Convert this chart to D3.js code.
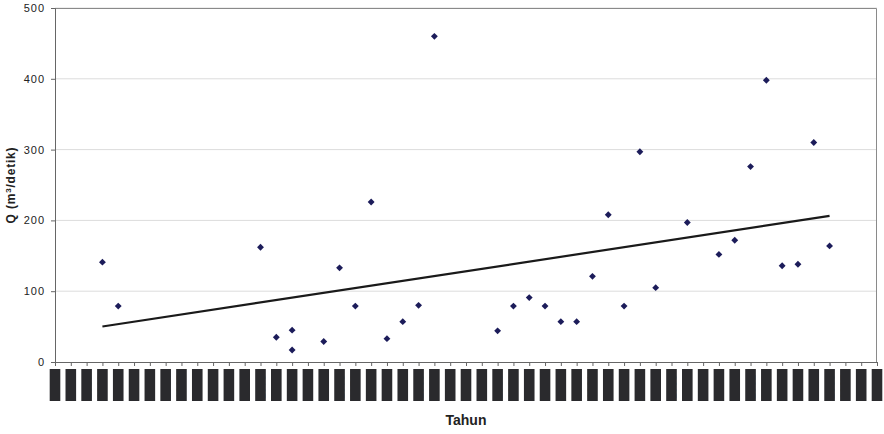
<!DOCTYPE html>
<html>
<head>
<meta charset="utf-8">
<script src="https://cdn.jsdelivr.net/npm/d3@7"></script>
<style>
  body { margin: 0; background: #fff; }
  text { font-family: "Liberation Sans", Arial, sans-serif; }
</style>
</head>
<body>
<svg id="chart" width="884" height="434"></svg>
<script>
// year slots on the x axis (labels are blacked out in the source)
const startYear = 1957;
const yearCount = 53;
const years = d3.range(startYear, startYear + yearCount);

// observed discharge, by year offset
const obsIndex = [3, 4, 13, 14, 15, 15, 17, 18, 19, 20, 21, 22, 23, 24, 28, 29, 30, 31, 32, 33, 34, 35, 36, 37, 38, 40, 42, 43, 44, 45, 46, 47, 48, 49];
const obsQ     = [141, 79, 162, 35, 45, 17, 29, 133, 79, 226, 33, 57, 80, 460, 44, 79, 91, 79, 57, 57, 121, 208, 79, 297, 105, 197, 152, 172, 276, 398, 136, 138, 310, 164];
const yTicks = [0, 100, 200, 300, 400, 500];

const svg = d3.select("#chart");
const margin = {top: 8, right: 7, bottom: 72, left: 55};
const width = 884 - margin.left - margin.right,
      height = 434 - margin.top - margin.bottom;

const x = d3.scaleLinear().domain([startYear, startYear + yearCount - 1]).range([0, width]);
const y = d3.scaleLinear().domain([0, 500]).range([height, 0]);

const g = svg.append("g").attr("transform", `translate(${margin.left},${margin.top})`);

//gridlines
g.selectAll(".grid").data(yTicks.slice(1)).join("line")
    .attr("x1", 0).attr("x2", width)
    .attr("y1", d => y(d)).attr("y2", d => y(d))
    .attr("stroke", "#dcdcdc").attr("stroke-width", 1);

//frame top + right
g.append("path")
    .attr("d", `M0,0.5H${width - 0.5}V${height}`)
    .attr("fill", "none").attr("stroke", "#8a8a8a");

//y axis
const yAxis = g.append("g")
    .call(d3.axisLeft(y).tickValues(yTicks).tickSize(4).tickPadding(6));
yAxis.select(".domain").attr("stroke", "#666");
yAxis.selectAll(".tick line").attr("stroke", "#666");
yAxis.selectAll("text")
    .attr("font-size", 11).attr("letter-spacing", 1).attr("fill", "#222");

//x axis
const xAxis = g.append("g").attr("transform", `translate(0,${height})`)
    .call(d3.axisBottom(x).tickValues(years).tickSize(4).tickFormat(""));
xAxis.select(".domain").attr("stroke", "#666");
xAxis.selectAll(".tick line").attr("stroke", "#666");

//blacked-out year labels
const labels = g.append("g").attr("transform", `translate(0,${height + 7})`);
labels.selectAll("rect").data(years).join("rect")
    .attr("x", d => x(d) - 5.3).attr("y", 0)
    .attr("width", 10.6).attr("height", 32)
    .attr("fill", "#2a2a2d");
labels.selectAll("text").data(years).join("text")
    .attr("transform", d => `translate(${x(d) + 4},30) rotate(-90)`)
    .attr("font-size", 11).attr("fill", "#2a2a2d")
    .text(d => d);

//linear trend line
const pts = obsIndex.map((d, i) => ({year: startYear + d, q: obsQ[i]}));
const mx = d3.mean(pts, d => d.year), my = d3.mean(pts, d => d.q);
const slope = d3.sum(pts, d => (d.year - mx) * (d.q - my)) / d3.sum(pts, d => (d.year - mx) ** 2);
const icpt = my - slope * mx;
const xExt = d3.extent(pts, d => d.year);
g.append("line")
    .attr("x1", x(xExt[0])).attr("y1", y(icpt + slope * xExt[0]))
    .attr("x2", x(xExt[1])).attr("y2", y(icpt + slope * xExt[1]))
    .attr("stroke", "#1a1a1a").attr("stroke-width", 2.2);

//points
g.selectAll(".pt").data(pts).join("path")
    .attr("d", d3.symbol(d3.symbolDiamond2, 30))
    .attr("transform", d => `translate(${x(d.year)},${y(d.q)})`)
    .attr("fill", "#1c1c5a");

//axis titles
svg.append("text")
    .attr("transform", `translate(15,${margin.top + height / 2}) rotate(-90)`)
    .attr("text-anchor", "middle")
    .attr("font-size", 12).attr("font-weight", "bold").attr("letter-spacing", 0.8)
    .attr("fill", "#222")
    .html("Q (m<tspan baseline-shift='super' font-size='8'>3</tspan>/detik)");

svg.append("text")
    .attr("x", 466).attr("y", 425)
    .attr("text-anchor", "middle")
    .attr("font-size", 14).attr("font-weight", "bold")
    .attr("fill", "#222")
    .text("Tahun");
</script>
</body>
</html>
